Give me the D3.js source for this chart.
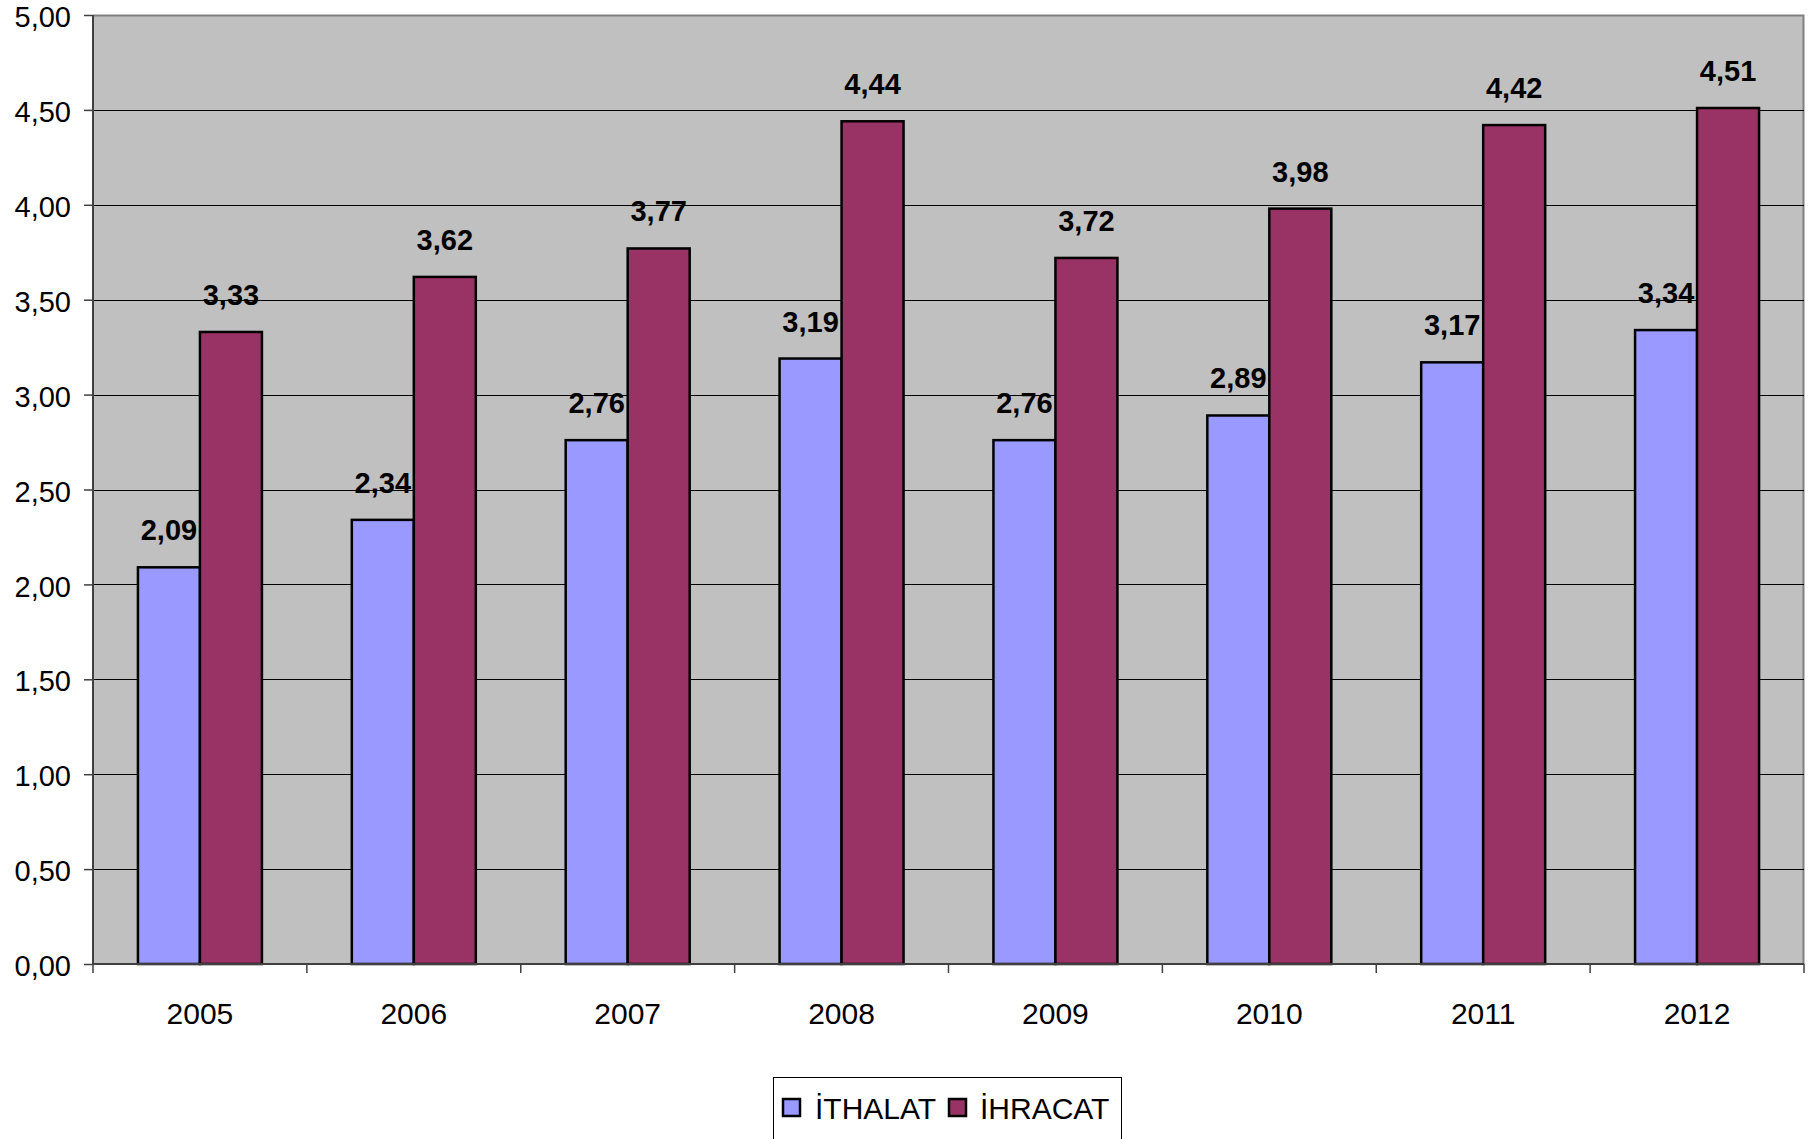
<!DOCTYPE html>
<html><head><meta charset="utf-8">
<script src="https://cdn.jsdelivr.net/npm/d3@7"></script>
<style>body{margin:0;background:#fff}svg{display:block}</style>
</head><body>
<svg id="c" width="1814" height="1139"></svg>
<script>
const years = ["2005","2006","2007","2008","2009","2010","2011","2012"];
const seriesNames = ["İTHALAT","İHRACAT"];
const ithalat = [2.09,2.34,2.76,3.19,2.76,2.89,3.17,3.34];
const ihracat = [3.33,3.62,3.77,4.44,3.72,3.98,4.42,4.51];
const yTicks = [0,0.5,1,1.5,2,2.5,3,3.5,4,4.5,5];
const colors = ["#9999FF","#993366"];

const svg = d3.select("#c");
const L=93, R=1804, T=15, B=964;
const x0 = d3.scaleBand().domain(years).range([L,R]).padding(0);
const x1 = d3.scaleBand().domain(seriesNames).range([0,x0.bandwidth()]).paddingInner(0).paddingOuter(0.725);
const y = d3.scaleLinear().domain([0,5]).range([B,T]);
const fmt = v => d3.format(".2f")(v).replace(".",",");
const font = "'Liberation Sans', Arial, sans-serif";

svg.append("rect").attr("x",L).attr("y",T).attr("width",R-L).attr("height",B-T).attr("fill","#C0C0C0");
svg.append("path").attr("d",`M${L},${T+0.5}H${R-0.5}V${B}`).attr("fill","none").attr("stroke","#808080").attr("stroke-width",2);
svg.append("g").selectAll("line").data(yTicks.filter(d=>d>0&&d<5)).join("line")
  .attr("x1",L).attr("x2",R).attr("y1",d=>Math.round(y(d))+0.5).attr("y2",d=>Math.round(y(d))+0.5)
  .attr("stroke","#000").attr("stroke-width",1);

const data = years.map((yr,i)=>({year:yr, vals:[ithalat[i],ihracat[i]]}));
const g = svg.append("g");
data.forEach(d=>{
  d.vals.forEach((v,j)=>{
    const xx = x0(d.year)+x1(seriesNames[j]);
    g.append("rect").attr("x",xx).attr("y",y(v)).attr("width",x1.bandwidth()).attr("height",B-y(v))
      .attr("fill",colors[j]).attr("stroke","#000").attr("stroke-width",2.5);
    g.append("text").attr("x",xx+x1.bandwidth()/2).attr("y",y(v)-27)
      .attr("text-anchor","middle").attr("font-family",font).attr("font-weight","bold")
      .attr("font-size",29).attr("fill","#000").text(fmt(v));
  });
});

const yAxis = d3.axisLeft(y).tickValues(yTicks).tickFormat(fmt).tickSize(9).tickPadding(13);
const ya = svg.append("g").attr("transform",`translate(${L},0)`).call(yAxis);
ya.select(".domain").attr("stroke","#404040").attr("stroke-width",2).attr("d",`M0,${T}V${B}`);
ya.selectAll(".tick line").attr("stroke","#404040").attr("stroke-width",1.5);
ya.selectAll("text").attr("font-family",font).attr("font-size",29).attr("fill","#000").attr("dy","0.4em");

const xa = svg.append("g").attr("transform",`translate(0,${B})`);
xa.append("line").attr("x1",L).attr("x2",R).attr("y1",0).attr("y2",0).attr("stroke","#404040").attr("stroke-width",2);
const bounds = years.map(yr=>x0(yr)).concat([R]);
xa.selectAll("line.t").data(bounds).join("line").attr("class","t")
  .attr("x1",d=>d).attr("x2",d=>d).attr("y1",0).attr("y2",9).attr("stroke","#404040").attr("stroke-width",1.5);
xa.selectAll("text").data(years).join("text")
  .attr("x",d=>x0(d)+x0.bandwidth()/2).attr("y",60).attr("text-anchor","middle")
  .attr("font-family",font).attr("font-size",30).attr("fill","#000").text(d=>d);

const lg = svg.append("g");
lg.append("rect").attr("x",773.5).attr("y",1077.5).attr("width",348).attr("height",62).attr("fill","#fff").attr("stroke","#000").attr("stroke-width",1);
const lx = [783, 949], tx=[815, 980];
seriesNames.forEach((s,i)=>{
  lg.append("rect").attr("x",lx[i]).attr("y",1099).attr("width",17).attr("height",17).attr("fill",colors[i]).attr("stroke","#000").attr("stroke-width",2.5);
  lg.append("text").attr("x",tx[i]).attr("y",1119).attr("font-family",font).attr("font-size",30).attr("fill","#000").text(s);
});
</script>
</body></html>
